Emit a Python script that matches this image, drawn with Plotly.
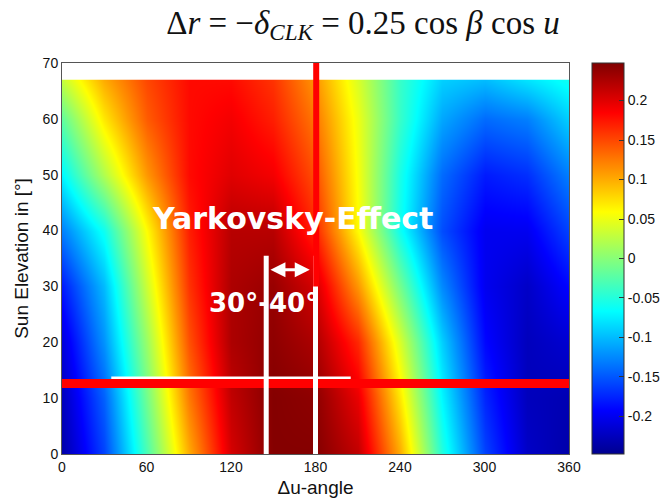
import numpy as np
import plotly.graph_objects as go

# Δu-angle samples (deg) and sun elevation samples (deg)
u_angle = [0, 30, 60, 90, 120, 150, 180, 210, 240, 270, 300, 330, 360]
elevation = [0, 10, 20, 30, 40, 50, 60, 67]

# Δr values on the (elevation, Δu) grid
dr_el00 = [-0.235, -0.16, -0.03, 0.10, 0.205, 0.245, 0.245, 0.215, 0.10, -0.05, -0.16, -0.22, -0.235]
dr_el10 = [-0.225, -0.145, -0.01, 0.125, 0.215, 0.245, 0.24, 0.195, 0.07, -0.07, -0.175, -0.225, -0.23]
dr_el20 = [-0.21, -0.12, 0.01, 0.145, 0.225, 0.24, 0.225, 0.165, 0.04, -0.09, -0.19, -0.225, -0.215]
dr_el30 = [-0.18, -0.10, 0.035, 0.16, 0.225, 0.235, 0.205, 0.11, -0.01, -0.125, -0.20, -0.22, -0.19]
dr_el40 = [-0.13, -0.06, 0.06, 0.17, 0.22, 0.22, 0.165, 0.06, -0.06, -0.155, -0.20, -0.20, -0.16]
dr_el50 = [-0.07, 0.02, 0.11, 0.18, 0.20, 0.19, 0.145, 0.055, -0.055, -0.14, -0.18, -0.17, -0.13]
dr_el60 = [-0.02, 0.07, 0.14, 0.18, 0.19, 0.17, 0.125, 0.05, -0.04, -0.11, -0.14, -0.13, -0.09]
dr_el67 = [0.03, 0.10, 0.15, 0.18, 0.18, 0.16, 0.11, 0.04, -0.04, -0.09, -0.10, -0.08, -0.06]
dr_grid = [dr_el00, dr_el10, dr_el20, dr_el30, dr_el40, dr_el50, dr_el60, dr_el67]

x_ticks = [0, 60, 120, 180, 240, 300, 360]
y_ticks = [0, 10, 20, 30, 40, 50, 60, 70]
cbar_ticks = [-0.2, -0.15, -0.1, -0.05, 0, 0.05, 0.1, 0.15, 0.2]
cbar_labels = ["-0.2", "-0.15", "-0.1", "-0.05", "0", "0.05", "0.1", "0.15", "0.2"]

# annotation anchors
yarkovsky_band = [145, 180]   # Δu range marked by white verticals
sun_line_el = 12.6            # horizontal red marker elevation
u_marker = 180


def jet_colors(m=64):
    """Classic 64-level jet colormap as rgb strings."""
    n = int(np.ceil(m / 4))
    u = np.concatenate([np.arange(1, n + 1) / n, np.ones(n - 1), np.arange(n, 0, -1) / n])
    g = int(np.ceil(n / 2)) - (1 if m % 4 == 1 else 0) + np.arange(1, len(u) + 1)
    r = g + n
    b = g - n
    J = np.zeros((m, 3))
    for idx, col in ((r, 0), (g, 1), (b, 2)):
        ok = (idx >= 1) & (idx <= m)
        J[idx[ok] - 1, col] = u[ok]
    return ["rgb(%d,%d,%d)" % tuple(np.round(c * 255)) for c in J]


cols = jet_colors(64)
scale = [[i / 63, c] for i, c in enumerate(cols)]

fig = go.Figure()
fig.add_trace(go.Heatmap(
    x=u_angle, y=elevation, z=dr_grid,
    zsmooth="best", colorscale=scale, zmin=-0.2475, zmax=0.2475,
    colorbar=dict(
        x=1.045, xanchor="left", xpad=0, y=0, yanchor="bottom", ypad=0,
        len=1.0, lenmode="fraction", thickness=32,
        outlinewidth=1, outlinecolor="#333",
        tickvals=cbar_ticks, ticktext=cbar_labels,
        ticks="inside", ticklen=5, tickcolor="#333",
        tickfont=dict(family="Liberation Sans", size=14, color="#111"),
    ),
    showscale=True,
))

shapes = [
    # blank strip above the sampled elevations
    dict(type="rect", xref="x", yref="y", x0=-20, x1=380, y0=67, y1=70.6,
         fillcolor="white", line_width=0, layer="above"),
    # white line above the horizontal marker
    dict(type="line", xref="x", yref="y", x0=35, x1=205, y0=sun_line_el + 1.0, y1=sun_line_el + 1.0,
         line=dict(color="white", width=3), layer="above"),
    # horizontal red marker
    dict(type="line", xref="x", yref="y", x0=0, x1=360, y0=sun_line_el, y1=sun_line_el,
         line=dict(color="#ff0000", width=9), layer="above"),
    # vertical white band edges
    dict(type="line", xref="x", yref="y", x0=yarkovsky_band[0], x1=yarkovsky_band[0], y0=0, y1=35.5,
         line=dict(color="white", width=5), layer="above"),
    dict(type="line", xref="x", yref="y", x0=yarkovsky_band[1], x1=yarkovsky_band[1], y0=0, y1=35.5,
         line=dict(color="white", width=5), layer="above"),
    # vertical red marker
    dict(type="line", xref="x", yref="y", x0=u_marker + 0.5, x1=u_marker + 0.5, y0=30, y1=70,
         line=dict(color="#ff0000", width=6), layer="above"),
]

annotations = [
    dict(text="Yarkovsky-Effect", x=164, y=42.2, xref="x", yref="y", showarrow=False,
         font=dict(family="DejaVu Sans", size=30, color="white", weight="bold")),
    dict(text="30°-40°", x=143, y=27.0, xref="x", yref="y", showarrow=False,
         font=dict(family="DejaVu Sans", size=26, color="white", weight="bold")),
    dict(x=yarkovsky_band[0] + 3, y=33, ax=yarkovsky_band[1] - 3, ay=33,
         xref="x", yref="y", axref="x", ayref="y", text="", showarrow=True,
         arrowhead=2, startarrowhead=2, arrowside="end+start", arrowsize=1,
         arrowwidth=3, arrowcolor="white"),
]

fig.update_layout(
    width=666, height=500,
    margin=dict(l=62, r=97, t=63, b=46, autoexpand=False),
    paper_bgcolor="white", plot_bgcolor="white",
    shapes=shapes, annotations=annotations,
    title=dict(
        text="Δ<i>r</i> = −<i>δ</i><sub><i>CLK</i></sub> = 0.25 cos <i>β</i> cos <i>u</i>",
        x=0.545, xref="container", xanchor="center",
        y=0.956, yref="container", yanchor="middle",
        font=dict(family="Liberation Serif", size=33, color="#111"),
    ),
    xaxis=dict(
        range=[0, 360], tickvals=x_ticks, ticks="", showgrid=False, zeroline=False,
        showline=True, linecolor="#555", linewidth=1, mirror=True,
        tickfont=dict(family="Liberation Sans", size=14, color="#111"),
        title=dict(text="Δu-angle", font=dict(family="Liberation Sans", size=19, color="#111"), standoff=6),
    ),
    yaxis=dict(
        range=[0, 70], tickvals=y_ticks, ticks="", showgrid=False, zeroline=False,
        showline=True, linecolor="#555", linewidth=1, mirror=True,
        tickfont=dict(family="Liberation Sans", size=14, color="#111"),
        title=dict(text="Sun Elevation in [°]", font=dict(family="Liberation Sans", size=19, color="#111"), standoff=8),
    ),
)

fig.write_html("out.html")
